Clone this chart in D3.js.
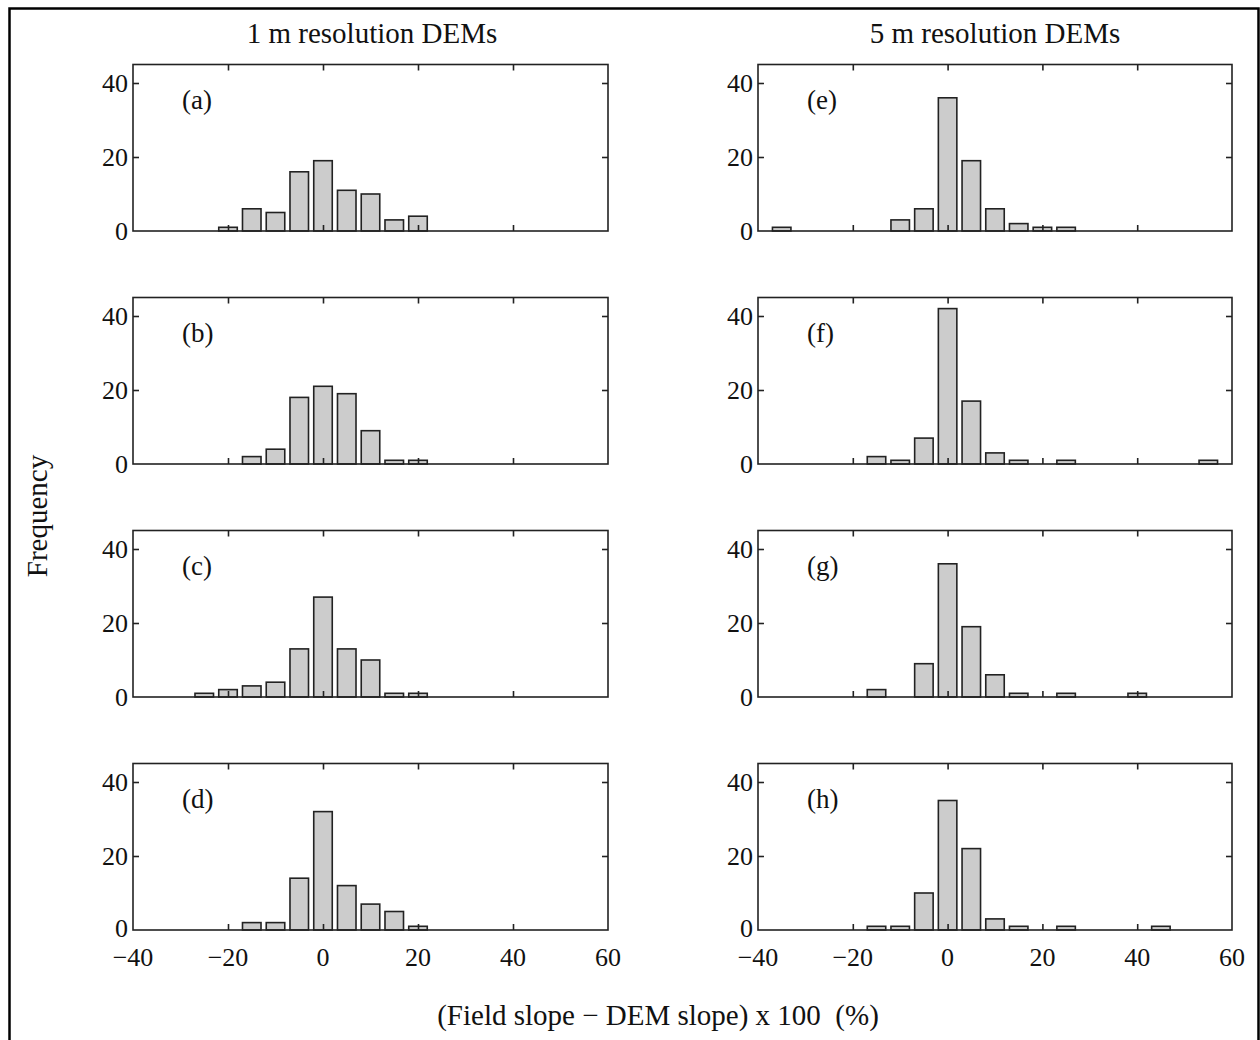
<!DOCTYPE html>
<html>
<head>
<meta charset="utf-8">
<script src="https://cdn.jsdelivr.net/npm/d3@7"></script>
<style>
  html, body { margin: 0; padding: 0; background: #fff; }
  svg { display: block; }
  text { font-family: "Liberation Serif", "Times New Roman", serif; fill: #111; }
</style>
</head>
<body>
<svg id="chart" width="1260" height="1040"></svg>
<script>
// Bin centres (%) and counts for each panel, 5 %-wide bins
const binsA = [-20, -15, -10, -5, 0, 5, 10, 15, 20];
const countsA = [1, 6, 5, 16, 19, 11, 10, 3, 4];

const binsB = [-15, -10, -5, 0, 5, 10, 15, 20];
const countsB = [2, 4, 18, 21, 19, 9, 1, 1];

const binsC = [-25, -20, -15, -10, -5, 0, 5, 10, 15, 20];
const countsC = [1, 2, 3, 4, 13, 27, 13, 10, 1, 1];

const binsD = [-15, -10, -5, 0, 5, 10, 15, 20];
const countsD = [2, 2, 14, 32, 12, 7, 5, 1];

const binsE = [-35, -10, -5, 0, 5, 10, 15, 20, 25];
const countsE = [1, 3, 6, 36, 19, 6, 2, 1, 1];

const binsF = [-15, -10, -5, 0, 5, 10, 15, 25, 55];
const countsF = [2, 1, 7, 42, 17, 3, 1, 1, 1];

const binsG = [-15, -5, 0, 5, 10, 15, 25, 40];
const countsG = [2, 9, 36, 19, 6, 1, 1, 1];

const binsH = [-15, -10, -5, 0, 5, 10, 15, 25, 45];
const countsH = [1, 1, 10, 35, 22, 3, 1, 1, 1];

const panelLabels = ["(a)", "(b)", "(c)", "(d)", "(e)", "(f)", "(g)", "(h)"];
const columnTitles = ["1 m resolution DEMs", "5 m resolution DEMs"];
const xTicks = [-40, -20, 0, 20, 40, 60];
const yTicks = [0, 20, 40];
const xDomain = [-40, 60];
const yDomain = [0, 45];
const binWidth = 5;

const panels = [
  { label: panelLabels[0], bins: binsA, counts: countsA, col: 0, row: 0 },
  { label: panelLabels[1], bins: binsB, counts: countsB, col: 0, row: 1 },
  { label: panelLabels[2], bins: binsC, counts: countsC, col: 0, row: 2 },
  { label: panelLabels[3], bins: binsD, counts: countsD, col: 0, row: 3 },
  { label: panelLabels[4], bins: binsE, counts: countsE, col: 1, row: 0 },
  { label: panelLabels[5], bins: binsF, counts: countsF, col: 1, row: 1 },
  { label: panelLabels[6], bins: binsG, counts: countsG, col: 1, row: 2 },
  { label: panelLabels[7], bins: binsH, counts: countsH, col: 1, row: 3 }
];

const svg = d3.select("#chart");

// outer frame (left, top, right edges)
svg.append("path")
  .attr("d", "M9.5,1040 V8.5 H1258.5 V1040")
  .attr("fill", "none")
  .attr("stroke", "#000")
  .attr("stroke-width", 2.5);

const colX = [[133, 608], [758, 1232]];
const rowBottom = [231, 464, 697, 930];
const plotH = 166.5;
const tickLen = 6;
const tickFont = 26;

panels.forEach(p => {
  const [x0, x1] = colX[p.col];
  const yb = rowBottom[p.row];
  const yt = yb - plotH;
  const x = d3.scaleLinear().domain(xDomain).range([x0, x1]);
  const y = d3.scaleLinear().domain(yDomain).range([yb, yt]);
  const g = svg.append("g");
  const bottomRow = p.row === 3;

  // bars, about 80% of bin width
  const bw = (x(binWidth) - x(0)) * 0.78;
  g.selectAll("rect.bar")
    .data(p.bins.map((b, i) => ({ b, c: p.counts[i] })))
    .join("rect")
    .attr("class", "bar")
    .attr("x", d => x(d.b) - bw / 2)
    .attr("width", bw)
    .attr("y", d => y(d.c))
    .attr("height", d => yb - y(d.c))
    .attr("fill", "#cccccc")
    .attr("stroke", "#222")
    .attr("stroke-width", 1.6);

  // inward ticks on all four sides
  const tickStyle = sel => {
    sel.select(".domain").remove();
    sel.selectAll(".tick line").attr("stroke", "#222").attr("stroke-width", 1.6);
  };
  const innerX = xTicks.filter(t => t > xDomain[0] && t < xDomain[1]);
  const innerY = yTicks.filter(t => t > yDomain[0]);
  g.append("g").attr("transform", `translate(0,${yb})`)
    .call(d3.axisTop(x).tickValues(innerX).tickSize(tickLen).tickFormat(""))
    .call(tickStyle);
  g.append("g").attr("transform", `translate(0,${yt})`)
    .call(d3.axisBottom(x).tickValues(innerX).tickSize(tickLen).tickFormat(""))
    .call(tickStyle);
  g.append("g").attr("transform", `translate(${x0},0)`)
    .call(d3.axisRight(y).tickValues(innerY).tickSize(tickLen).tickFormat(""))
    .call(tickStyle);
  g.append("g").attr("transform", `translate(${x1},0)`)
    .call(d3.axisLeft(y).tickValues(innerY).tickSize(tickLen).tickFormat(""))
    .call(tickStyle);

  // y tick labels (the bottom row's zero sits a touch higher to clear the x labels)
  g.selectAll("text.ylab")
    .data(yTicks)
    .join("text")
    .attr("class", "ylab")
    .attr("x", x0 - 5)
    .attr("y", d => y(d) + (bottomRow && d === 0 ? 7 : 9))
    .attr("text-anchor", "end")
    .attr("font-size", tickFont)
    .text(d => d);

  // frame
  g.append("rect")
    .attr("x", x0).attr("y", yt)
    .attr("width", x1 - x0).attr("height", plotH)
    .attr("fill", "none")
    .attr("stroke", "#222")
    .attr("stroke-width", 1.6);

  // panel label
  g.append("text")
    .attr("x", x0 + 49)
    .attr("y", yt + 44)
    .attr("font-size", 27)
    .text(p.label);

  // x tick labels on the bottom row
  if (bottomRow) {
    g.selectAll("text.xlab")
      .data(xTicks)
      .join("text")
      .attr("class", "xlab")
      .attr("x", d => x(d))
      .attr("y", yb + 36)
      .attr("text-anchor", "middle")
      .attr("font-size", tickFont)
      .text(d => d < 0 ? "\u2212" + Math.abs(d) : d);
  }
});

// column titles
columnTitles.forEach((t, i) => {
  svg.append("text")
    .attr("x", (i === 0 ? 372 : 995))
    .attr("y", 43)
    .attr("text-anchor", "middle")
    .attr("font-size", 29)
    .text(t);
});

// axis titles
svg.append("text")
  .attr("transform", "translate(47,516) rotate(-90)")
  .attr("text-anchor", "middle")
  .attr("font-size", 29)
  .text("Frequency");

svg.append("text")
  .attr("x", 658)
  .attr("y", 1025)
  .attr("text-anchor", "middle")
  .attr("font-size", 29)
  .attr("xml:space", "preserve")
  .style("white-space", "pre")
  .text("(Field slope \u2212 DEM slope) x 100  (%)");
</script>
</body>
</html>
